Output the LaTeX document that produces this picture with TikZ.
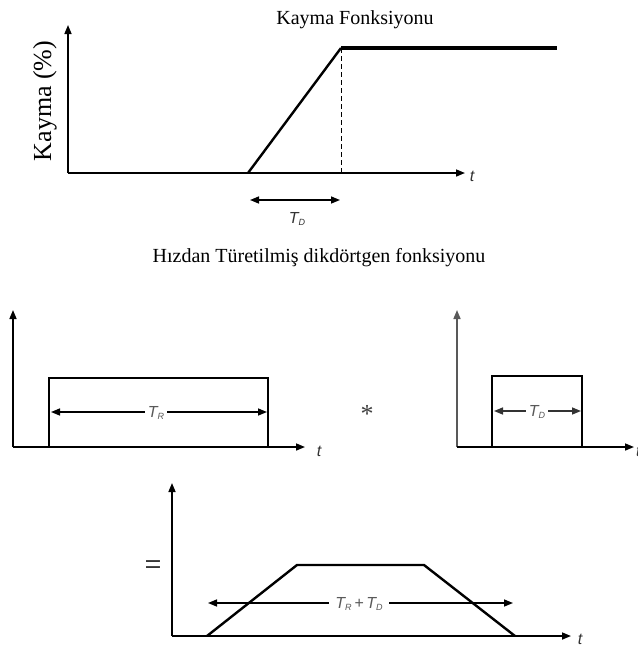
\documentclass[tikz,border=0pt]{standalone}
\usepackage{fontspec}
\setmainfont{Liberation Serif}
\newfontfamily\lblfont{Liberation Sans}
\usetikzlibrary{arrows.meta}
\newcommand{\sbs}[1]{\raisebox{-0.35ex}{\fontsize{9}{10}\selectfont #1}}
\tikzset{
  axis/.style={line width=1.6pt,-{Triangle[length=9pt,width=7pt]}},
  curve/.style={line width=2.4pt},
  dim/.style={line width=1.5pt,{Triangle[length=9pt,width=7pt]}-{Triangle[length=9pt,width=7pt]}},
  title/.style={font=\fontsize{20}{22}\selectfont, inner sep=0pt},
  tlabel/.style={font=\lblfont\itshape\fontsize{16}{18}\selectfont, inner sep=1pt, text=black!80},
  dlabel/.style={font=\lblfont\itshape\fontsize{16}{18}\selectfont, fill=white, inner sep=3pt, text=black!65},
}
\begin{document}
\begin{tikzpicture}[x=1pt,y=-1pt]
\useasboundingbox (0,0) rectangle (638,649);
% ---------- top plot ----------
\coordinate (o1) at (68,173);
\coordinate (y1) at (68,25);
\coordinate (x1) at (465,173);
\coordinate (r0) at (248,173);
\coordinate (r1) at (341,48);
\coordinate (r2) at (557,48);
\draw[axis] (o1) -- (y1);
\draw[axis] (o1) -- (x1);
\draw[curve] (r0) -- (r1);
\draw[line width=3.4pt] (r1) -- (r2);
\draw[dashed, line width=1pt, dash pattern=on 5pt off 3pt] (r1) -- (r1 |- o1);
\node[title] (t1) at (355,20) {Kayma Fonksiyonu};
\node[title, font=\fontsize{26}{28}\selectfont, rotate=90] (yl) at (45,101) {Kayma (\%)};
\node[tlabel] (tt1) at (472,176) {t};
\coordinate (d1a) at (250,200);
\coordinate (d1b) at (340,200);
\draw[dim] (d1a) -- (d1b);
\node[font=\lblfont\itshape\fontsize{16}{18}\selectfont, inner sep=0pt, text=black!80] (td1) at (297,219) {T\sbs{D}};
% ---------- middle title ----------
\node[title] (t2) at (319,258) {Hızdan Türetilmiş dikdörtgen fonksiyonu};
% ---------- left rectangle ----------
\coordinate (o2) at (13,447);
\coordinate (y2) at (13,310);
\coordinate (x2) at (305,447);
\coordinate (a0) at (49,447);
\coordinate (a1) at (49,378);
\coordinate (a2) at (268,378);
\coordinate (a3) at (268,447);
\draw[axis] (o2) -- (y2);
\draw[axis] (o2) -- (x2);
\draw[curve] (a0) -- (a1) -- (a2) -- (a3);
\coordinate (d2a) at (51,412);
\coordinate (d2b) at (267,412);
\draw[dim] (d2a) -- (d2b);
\node[dlabel] (tr) at (156,413) {T\sbs{R}};
\node[tlabel] (tt2) at (319,451) {t};
\node[font=\fontsize{26}{28}\selectfont, text=black!75] (star) at (367,414) {*};
% ---------- right rectangle ----------
\coordinate (o3) at (457,447);
\coordinate (y3) at (457,310);
\coordinate (x3) at (634,447);
\coordinate (b0) at (492,447);
\coordinate (b1) at (492,376);
\coordinate (b2) at (582,376);
\coordinate (b3) at (582,447);
\draw[axis, draw=black!65, fill=black!65] (o3) -- (y3);
\draw[axis] (o3) -- (x3);
\draw[curve] (b0) -- (b1) -- (b2) -- (b3);
\coordinate (d3a) at (494,411);
\coordinate (d3b) at (581,411);
\draw[dim, draw=black!80] (d3a) -- (d3b);
\node[dlabel] (td3) at (537,412) {T\sbs{D}};
\node[tlabel, anchor=west, inner sep=0pt] (tt3) at (636,451) {t};
% ---------- bottom trapezoid ----------
\coordinate (o4) at (172,636);
\coordinate (y4) at (172,483);
\coordinate (x4) at (571,636);
\coordinate (c0) at (207,636);
\coordinate (c1) at (297,565);
\coordinate (c2) at (424,565);
\coordinate (c3) at (515,636);
\draw[axis] (o4) -- (y4);
\draw[axis] (o4) -- (x4);
\draw[curve] (c0) -- (c1) -- (c2) -- (c3);
\coordinate (d4a) at (208,603);
\coordinate (d4b) at (513,603);
\draw[dim] (d4a) -- (d4b);
\node[dlabel, inner xsep=6pt] (trd) at (359,604) {T\sbs{R}\,+\,T\sbs{D}};
\node[tlabel] (tt4) at (580,639) {t};
\node[font=\fontsize{30}{32}\selectfont] (eq) at (153,568) {=};
\end{tikzpicture}
\end{document}
